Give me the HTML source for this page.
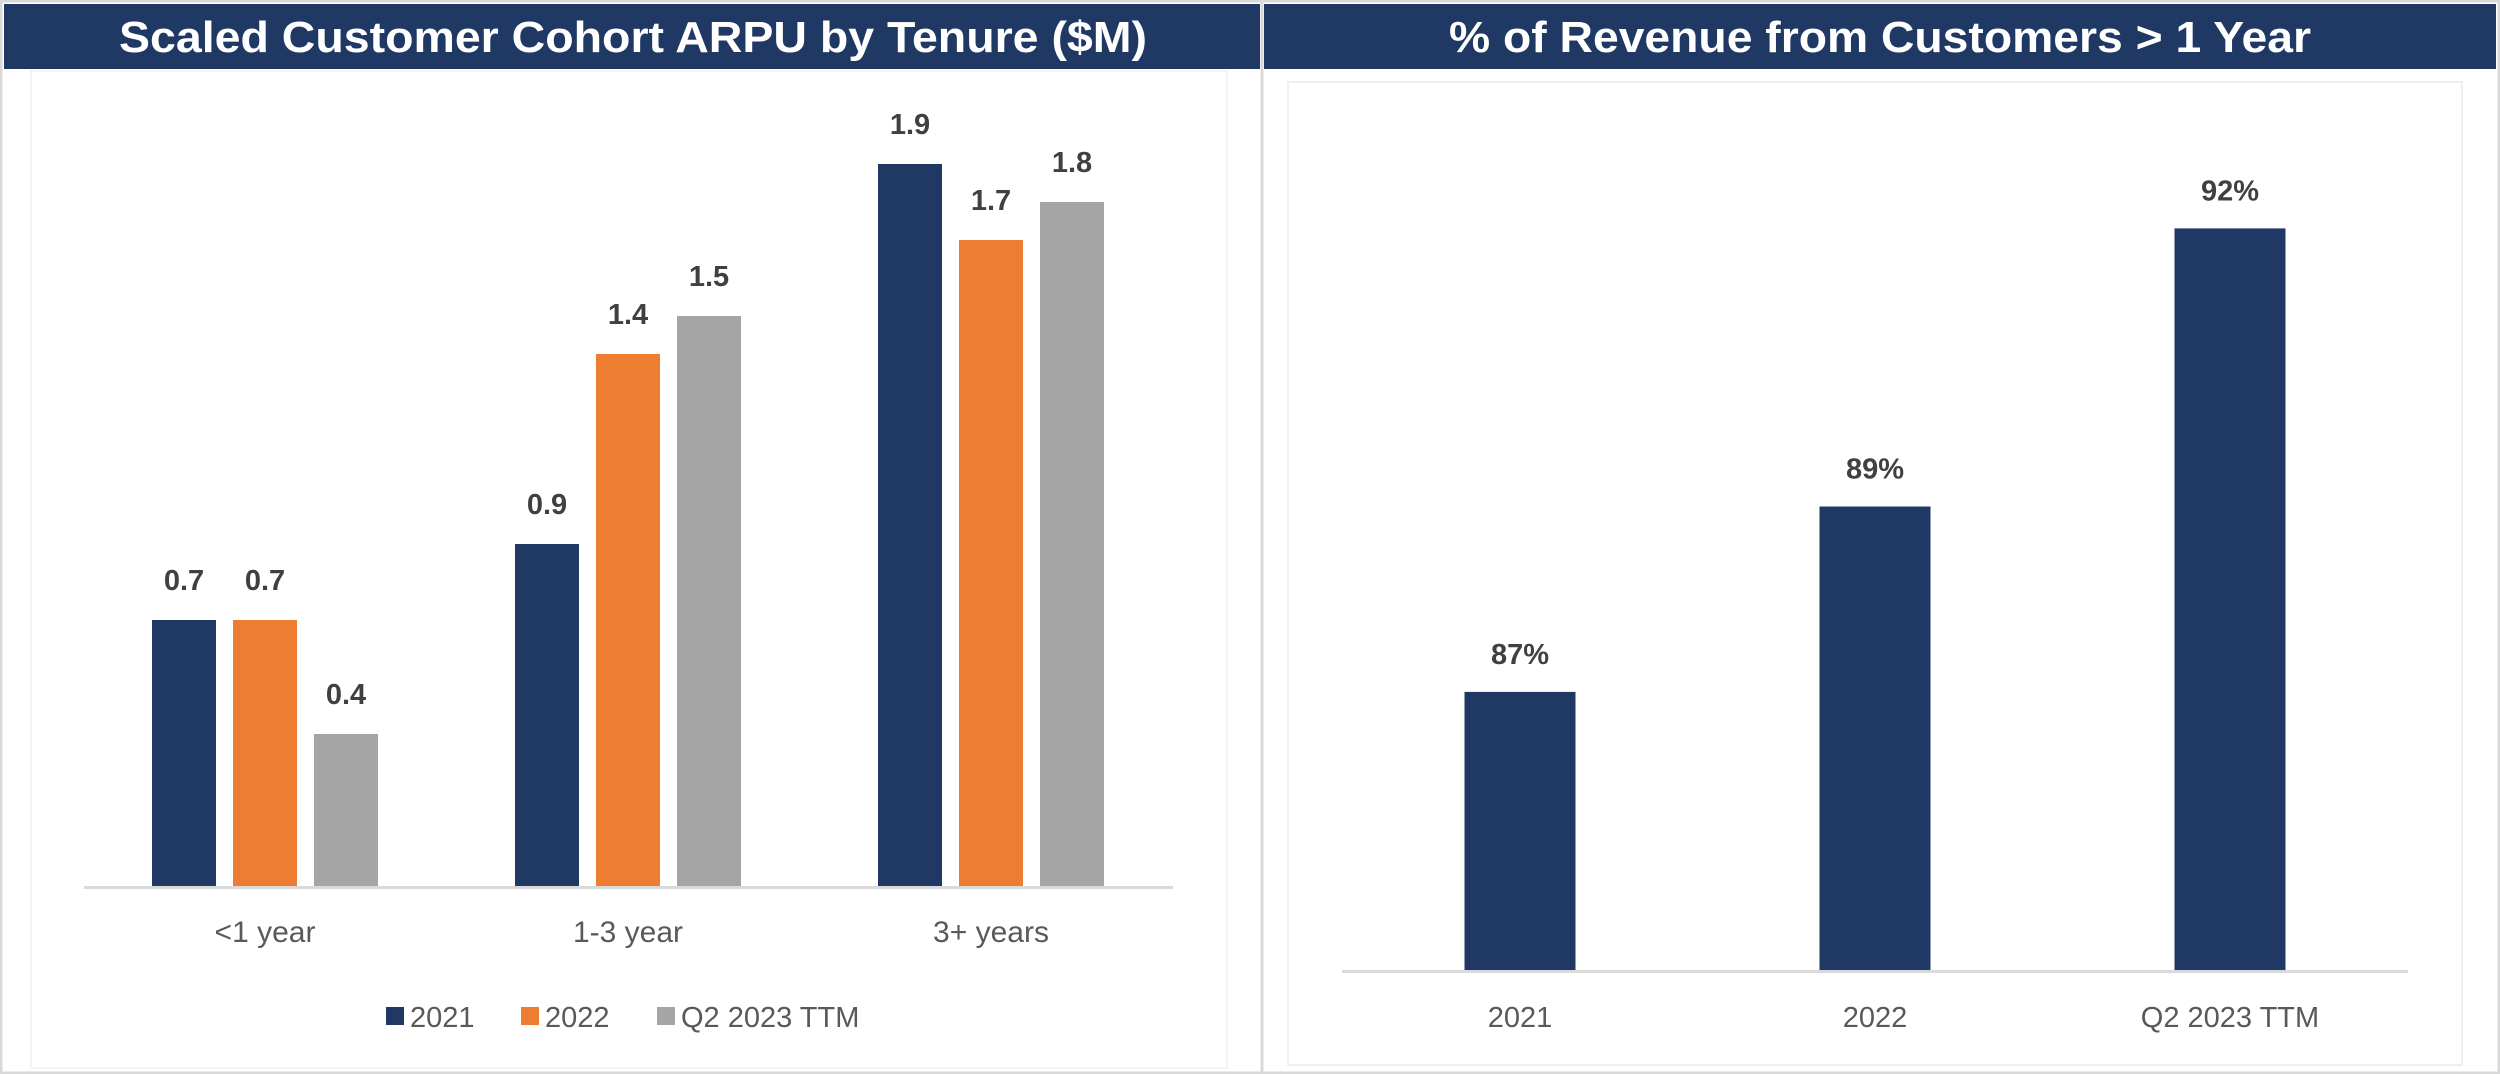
<!DOCTYPE html>
<html><head><meta charset="utf-8"><style>
html,body{margin:0;padding:0;background:#fff;}
svg{display:block;font-family:"Liberation Sans",sans-serif;}
</style></head><body>
<svg id="c" width="2500" height="1074" viewBox="0 0 2500 1074">
<rect x="1" y="1" width="2498" height="1072" fill="#fff" stroke="#d9d9d9" stroke-width="3"/>
<line x1="1262" y1="0" x2="1262" y2="1074" stroke="#d9d9d9" stroke-width="3"/>
<rect x="4" y="4" width="1256" height="65" fill="#1f3864"/>
<rect x="1264" y="4" width="1232" height="65" fill="#1f3864"/>
<text x="633" y="52" fill="#fff" font-size="44" font-weight="bold" text-anchor="middle" textLength="1028" lengthAdjust="spacingAndGlyphs">Scaled Customer Cohort ARPU by Tenure ($M)</text>
<text x="1880" y="52" fill="#fff" font-size="44" font-weight="bold" text-anchor="middle" textLength="862" lengthAdjust="spacingAndGlyphs">% of Revenue from Customers &gt; 1 Year</text>
<rect x="31" y="71" width="1196" height="997" fill="none" stroke="#f0f0f0" stroke-width="1.5"/>
<rect x="1288" y="82" width="1174" height="983" fill="none" stroke="#eaeaea" stroke-width="1.5"/>
<g id="left"></g>
<g id="right"></g>
</svg>
<script>
const categories = ["<1 year", "1-3 year", "3+ years"];
const seriesNames = ["2021", "2022", "Q2 2023 TTM"];
const s2021 = [0.7, 0.9, 1.9];
const s2022 = [0.7, 1.4, 1.7];
const sTTM = [0.4, 1.5, 1.8];
const years = ["2021", "2022", "Q2 2023 TTM"];
const pctValues = [87, 89, 92];
const pctLabels = ["87%", "89%", "92%"];

const NS = "http://www.w3.org/2000/svg";
function mk(parent, tag, attrs, text){
  const e = document.createElementNS(NS, tag);
  for (const k in attrs) e.setAttribute(k, attrs[k]);
  if (text !== undefined) e.textContent = text;
  parent.appendChild(e);
  return e;
}
const colors = ["#1f3864", "#ed7d31", "#a5a5a5"];
const series = [s2021, s2022, sTTM];

// Left chart axes
const L = document.getElementById("left");
const lBase = 886, lPerUnit = 380;
const ly = v => lBase - v * lPerUnit;
const groupCenter = i => 265 + i * 363;
const barW = 64, barStep = 81;
const lx = (i, s) => groupCenter(i) + (s - 1) * barStep - barW / 2;

series.forEach((vals, s) => {
  vals.forEach((v, i) => {
    const r = mk(L, "rect", {x: lx(i, s), y: ly(v), width: barW, height: lBase - ly(v), fill: colors[s]});
    
    
    const t = mk(L, "text", {x: lx(i, s) + barW / 2, y: ly(v) - 30, "text-anchor": "middle", "font-size": "29", "font-weight": "bold", fill: "#404040"}, v.toFixed(1));
    
    
  });
});
const la = mk(L, "line", {x1: 84, y1: lBase + 1.5, x2: 1173, y2: lBase + 1.5, stroke: "#d9d9d9", "stroke-width": 3});


categories.forEach((c, i) => {
  const t = mk(L, "text", {x: groupCenter(i), y: 942, "text-anchor": "middle", "font-size": "30", fill: "#595959"}, c);
  
  
});
const legX = [386, 521, 657];
seriesNames.forEach((n, s) => {
  const g = mk(L, "g", {});
  
  
  mk(g, "rect", {x: legX[s], y: 1007, width: 18, height: 18, fill: colors[s]});
  mk(g, "text", {x: legX[s] + 24, y: 1027, "font-size": "29", fill: "#595959"}, n);
});

// Right chart axes
const R = document.getElementById("right");
const rBase = 970, rMin = 84, rPer = 92.7;
const ry = v => rBase - (v - rMin) * rPer;
const rCenter = i => 1520 + i * 355;
const rW = 111;
pctValues.forEach((v, i) => {
  const r = mk(R, "rect", {x: rCenter(i) - rW / 2, y: ry(v), width: rW, height: rBase - ry(v), fill: "#1f3864"});
  
  
  const t = mk(R, "text", {x: rCenter(i), y: ry(v) - 28, "text-anchor": "middle", "font-size": "29", "font-weight": "bold", fill: "#404040"}, pctLabels[i]);
  
  
  const c = mk(R, "text", {x: rCenter(i), y: 1027, "text-anchor": "middle", "font-size": "29", fill: "#595959"}, years[i]);
  
  
});
const ra = mk(R, "line", {x1: 1342, y1: rBase + 1.5, x2: 2408, y2: rBase + 1.5, stroke: "#d9d9d9", "stroke-width": 3});


</script>
</body></html>
